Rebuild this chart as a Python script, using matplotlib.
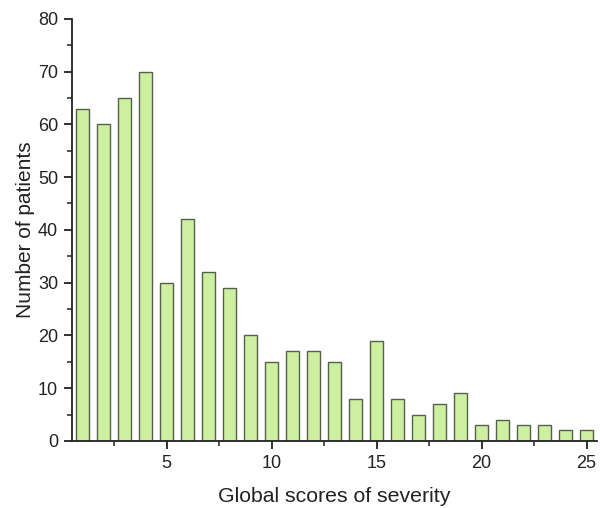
import numpy as np
import matplotlib
matplotlib.use('Agg')
import matplotlib.pyplot as plt
from matplotlib.ticker import MultipleLocator

scores = np.arange(1, 26)
patients = [63, 60, 65, 70, 30, 42, 32, 29, 20, 15, 17, 17, 15, 8, 19, 8, 5, 7, 9, 3, 4, 3, 3, 2, 2]

plt.rcParams['font.family'] = ['Liberation Sans', 'DejaVu Sans']

fig = plt.figure(figsize=(6, 5.08), dpi=100)
ax = fig.add_axes([0.12, 0.132, 0.875, 0.831])

ax.bar(scores, patients, width=0.6, color='#cdf0a0', edgecolor='#55604a', linewidth=1.0)

ax.set_xlim(0.5, 25.5)
ax.set_ylim(0, 80)
ax.xaxis.set_major_locator(MultipleLocator(5))
ax.xaxis.set_minor_locator(MultipleLocator(2.5))
ax.yaxis.set_major_locator(MultipleLocator(10))
ax.yaxis.set_minor_locator(MultipleLocator(5))

for s in ['top', 'right']:
    ax.spines[s].set_visible(False)
for s in ['left', 'bottom']:
    ax.spines[s].set_linewidth(1.3)
    ax.spines[s].set_color('#222222')

ax.tick_params(which='major', direction='out', length=6, width=1.3, labelsize=13, colors='#222222', pad=4)
ax.tick_params(which='minor', direction='out', length=3.5, width=1.1, colors='#222222')

ax.set_xlabel('Global scores of severity', fontsize=15.3, color='#222222', labelpad=11)
ax.set_ylabel('Number of patients', fontsize=15, color='#222222', labelpad=2)

fig.savefig('out.png', dpi=100)
